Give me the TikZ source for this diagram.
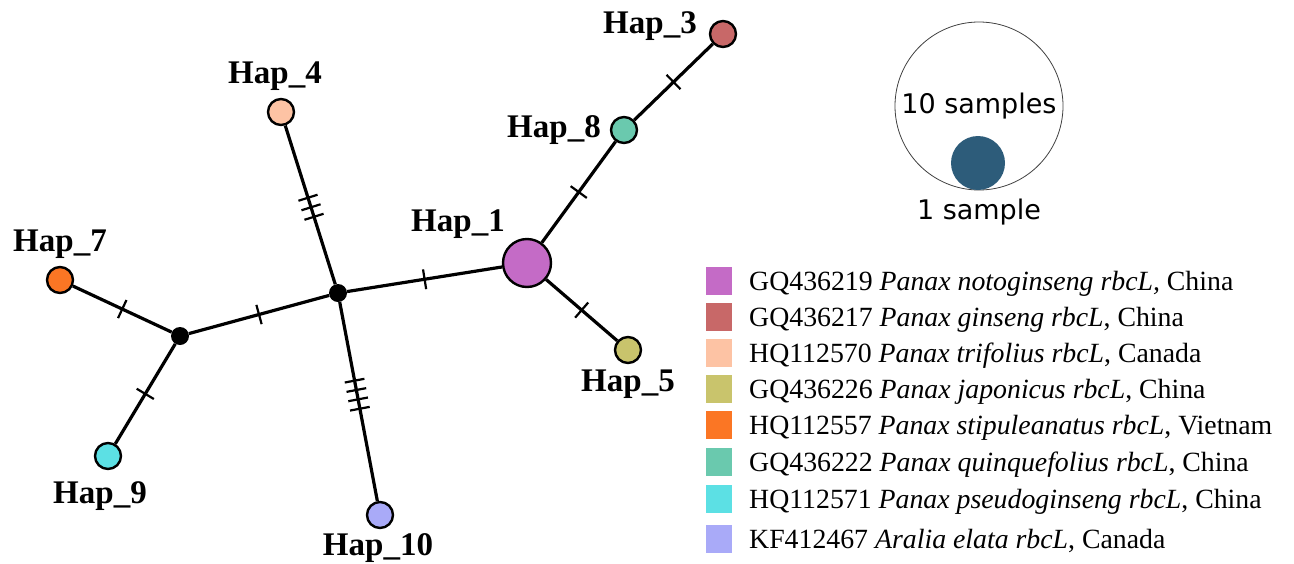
\documentclass[tikz,border=0pt]{standalone}
\usepackage{fontspec}
\setmainfont{Liberation Serif}
\newfontfamily\keyfont{DejaVu Sans}
\definecolor{c1}{HTML}{C46BC6}
\definecolor{c3}{HTML}{C86868}
\definecolor{c4}{HTML}{FDC3A4}
\definecolor{c5}{HTML}{C9C46C}
\definecolor{c7}{HTML}{FB7624}
\definecolor{c8}{HTML}{6AC9AE}
\definecolor{c9}{HTML}{5CE0E4}
\definecolor{c10}{HTML}{A9AAF8}
\definecolor{cone}{HTML}{2D5C7A}
\tikzset{
  hap/.style={circle, draw=black, line width=2.4pt, minimum size=26pt, inner sep=0pt},
  median/.style={circle, fill=black, minimum size=18pt, inner sep=0pt},
  edge/.style={line width=3.2pt, black},
  tk/.style={sloped, draw=black, line width=2.2pt, rectangle, minimum width=0pt, minimum height=20pt, inner sep=0pt},
  hlabel/.style={anchor=base, font=\fontsize{33}{36}\selectfont\bfseries, inner sep=0pt},
  keybox/.style={minimum width=26pt, minimum height=28pt, inner sep=0pt},
  keytext/.style={anchor=base west, font=\fontsize{27.8}{30}\selectfont, inner sep=0pt},
}
\begin{document}
\begin{tikzpicture}[x=1pt, y=-1pt]
\useasboundingbox (0,0) rectangle (1294,563);

% haplotype nodes
\node[hap, fill=c1, minimum size=48pt] (h1) at (527,263) {};
\node[hap, fill=c3] (h3) at (723,34) {};
\node[hap, fill=c4] (h4) at (281,112) {};
\node[hap, fill=c5] (h5) at (628,350) {};
\node[hap, fill=c7] (h7) at (60,280) {};
\node[hap, fill=c8] (h8) at (624,130) {};
\node[hap, fill=c9] (h9) at (108,456) {};
\node[hap, fill=c10] (h10) at (380,515) {};
\node[median] (ma) at (338,293) {};
\node[median] (mb) at (180,336) {};

% connections with mutation ticks
\draw[edge] (ma) -- (h1) node[tk, pos=0.5] {};
\draw[edge] (ma) -- (mb) node[tk, pos=0.5] {};
\draw[edge] (mb) -- (h7) node[tk, pos=0.5] {};
\draw[edge] (mb) -- (h9) node[tk, pos=0.5] {};
\draw[edge] (h1) -- (h8) node[tk, pos=0.5] {};
\draw[edge] (h8) -- (h3) node[tk, pos=0.5] {};
\draw[edge] (h1) -- (h5) node[tk, pos=0.5] {};
\draw[edge] (h4) -- (ma) node[tk, pos=0.455] {} node[tk, pos=0.515] {} node[tk, pos=0.575] {};
\draw[edge] (ma) -- (h10) node[tk, pos=0.395] {} node[tk, pos=0.442] {} node[tk, pos=0.489] {} node[tk, pos=0.536] {};

% haplotype labels
\node[hlabel] (l1) at (458,231) {Hap\_1};
\node[hlabel] (l3) at (650,33) {Hap\_3};
\node[hlabel] (l4) at (275,83) {Hap\_4};
\node[hlabel] (l5) at (628,391) {Hap\_5};
\node[hlabel] (l7) at (60,251) {Hap\_7};
\node[hlabel] (l8) at (554,137) {Hap\_8};
\node[hlabel] (l9) at (100,503) {Hap\_9};
\node[hlabel] (l10) at (378,555) {Hap\_10};

% sample-size key
\node[circle, draw=black!75, line width=0.8pt, minimum size=168pt, inner sep=0pt] (big) at (979,106) {};
\node[circle, fill=cone, minimum size=54pt, inner sep=0pt] (small) at (978,163) {};
\node[font=\keyfont\fontsize{27}{30}\selectfont, inner sep=0pt] (t10) at (979,106) {10 samples};
\node[font=\keyfont\fontsize{27}{30}\selectfont, inner sep=0pt] (t1) at (979,212) {1 sample};

% legend
\foreach \c/\y/\txt in {
  c1/281/{GQ436219 \textit{Panax notoginseng rbcL,} China},
  c3/317/{GQ436217 \textit{Panax ginseng rbcL}, China},
  c4/353/{HQ112570 \textit{Panax trifolius rbcL}, Canada},
  c5/389/{GQ436226 \textit{Panax japonicus rbcL}, China},
  c7/425/{HQ112557 \textit{Panax stipuleanatus rbcL}, Vietnam},
  c8/462/{GQ436222 \textit{Panax quinquefolius rbcL}, China},
  c9/499/{HQ112571 \textit{Panax pseudoginseng rbcL}, China},
  c10/539/{KF412467 \textit{Aralia elata rbcL}, Canada}} {
  \node[keybox, fill=\c] (k\c) at (719,\y) {};
  \node[keytext] (t\c) at (749,\y+9) {\txt};
}
\end{tikzpicture}
\end{document}
